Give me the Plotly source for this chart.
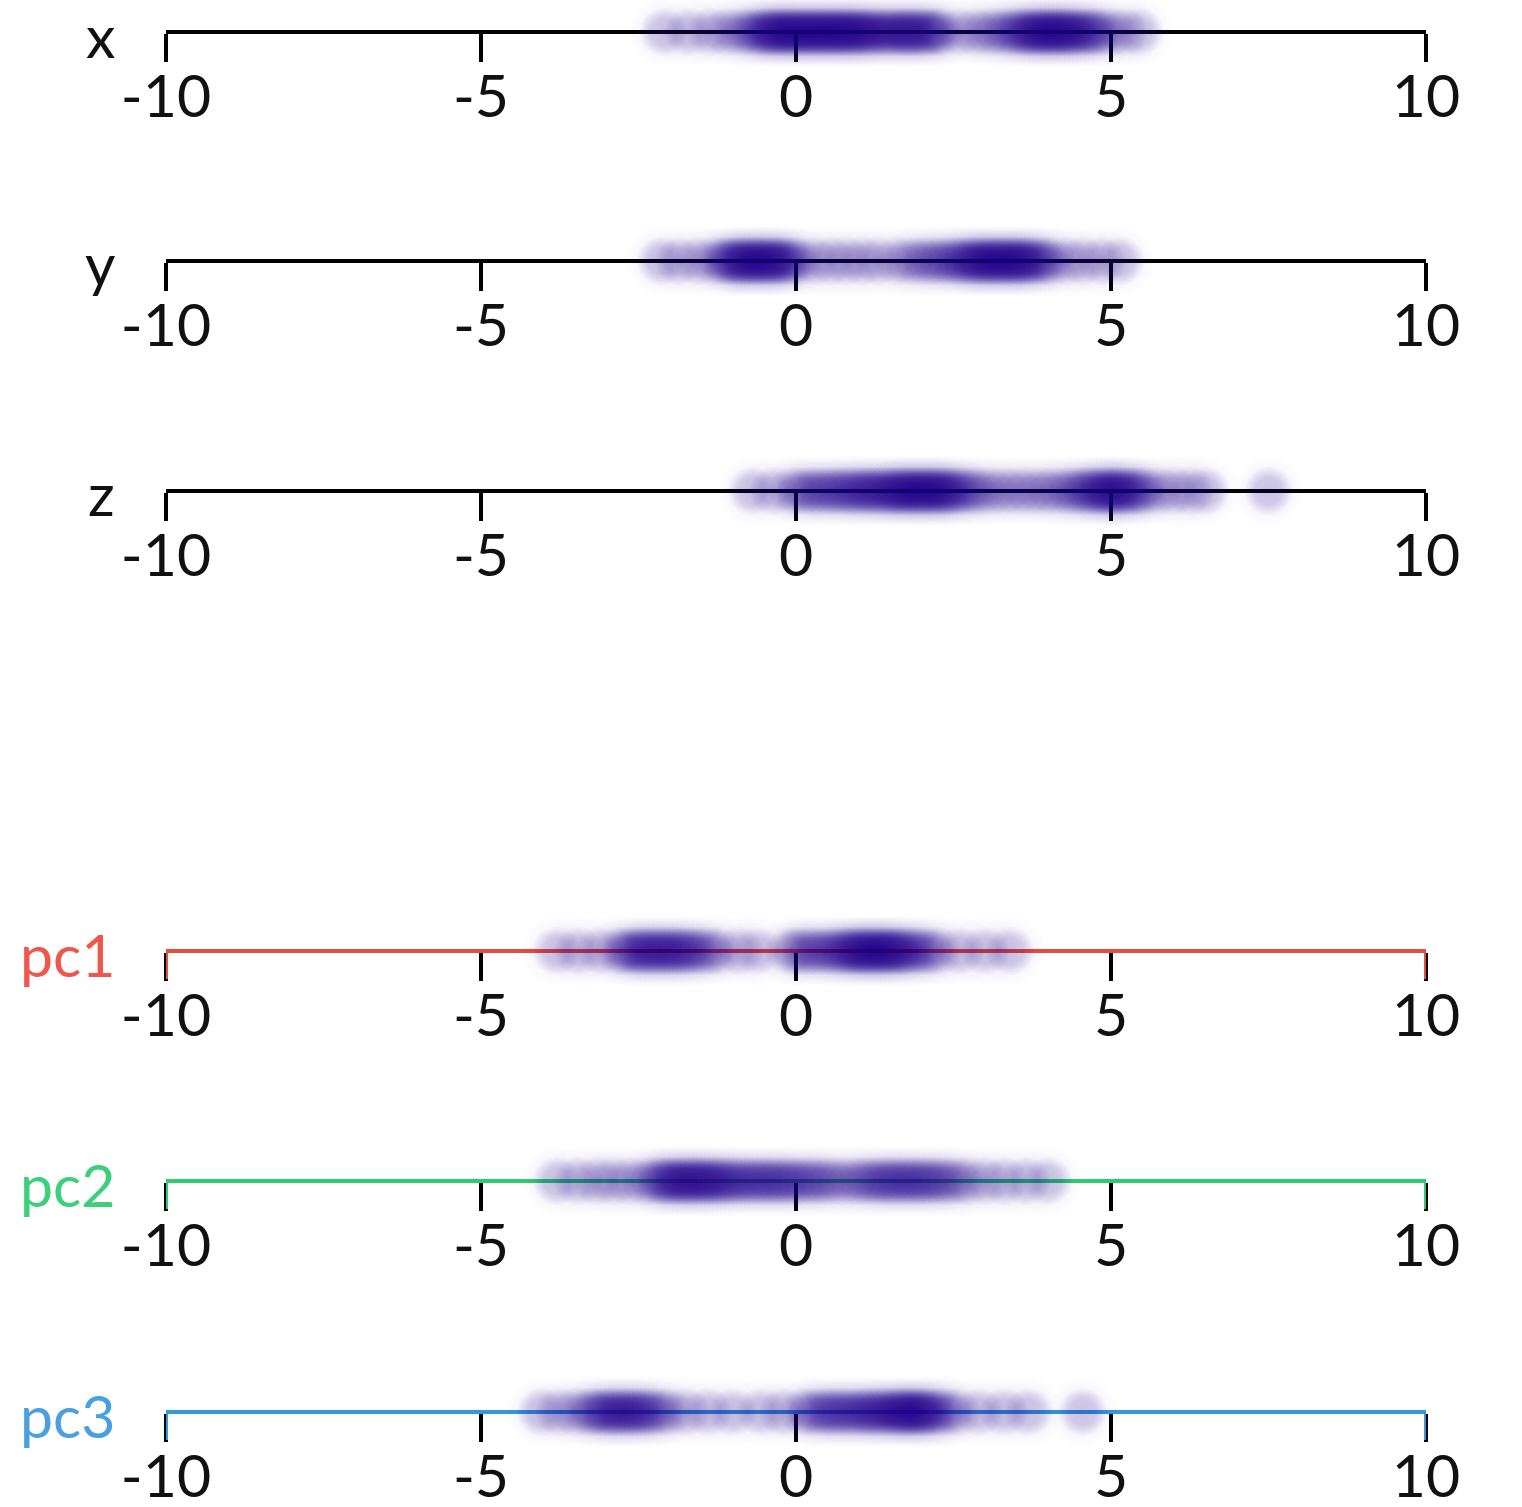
import plotly.graph_objects as go

# ---------------- data ----------------
row_names = ["x", "y", "z", "pc1", "pc2", "pc3"]

x_vals = [-2.1, -1.7, -1.35, -1.1, -0.9,
          -0.75, -0.65, -0.55, -0.48, -0.42, -0.36, -0.3, -0.24, -0.18, -0.12, -0.06, 0.0, 0.06,
          0.12, 0.18, 0.24, 0.3, 0.36, 0.42, 0.48, 0.54, 0.6, 0.66, 0.72, 0.78, 0.84, 0.9, 0.96,
          1.02, 1.08,
          1.15, 1.22, 1.3, 1.38, 1.46, 1.54, 1.62, 1.7, 1.76, 1.82, 1.9, 1.98, 2.06, 2.14, 2.22, 2.3,
          2.6, 2.85,
          3.05, 3.2, 3.35, 3.45, 3.55, 3.62, 3.7, 3.76, 3.82, 3.88, 3.94, 4.0, 4.06, 4.12, 4.18,
          4.24, 4.3, 4.36, 4.42, 4.5, 4.58, 4.66, 4.74, 4.82,
          5.0, 5.2, 5.45]

y_vals = [-2.15, -1.85, -1.55, -1.3,
          -1.15, -1.08, -1.0, -0.94, -0.88, -0.82, -0.76, -0.7, -0.64, -0.58, -0.52, -0.46, -0.4,
          -0.34, -0.28, -0.22, -0.15, -0.06, 0.05,
          0.3, 0.55, 0.8, 1.05, 1.3,
          1.6, 1.8, 1.95, 2.1, 2.22, 2.34, 2.46, 2.56, 2.64, 2.72, 2.8, 2.86, 2.92, 2.98, 3.04, 3.1,
          3.16, 3.22, 3.28, 3.34, 3.4, 3.46, 3.52, 3.58, 3.64, 3.7, 3.78, 3.86, 3.95, 4.05,
          4.3, 4.55, 4.85, 5.15]

z_vals = [-0.7, -0.35,
          -0.05, 0.08, 0.2, 0.32, 0.44, 0.55, 0.66, 0.76, 0.86, 0.95, 1.04, 1.12, 1.2, 1.28, 1.36,
          1.44, 1.52, 1.58, 1.64, 1.7, 1.76, 1.82, 1.88, 1.94, 2.0, 2.06, 2.12, 2.18, 2.24, 2.3,
          2.36, 2.42, 2.5, 2.58, 2.68, 2.8, 2.92,
          3.1, 3.3, 3.5, 3.7, 3.9, 4.08,
          4.25, 4.38, 4.5, 4.6, 4.68, 4.76, 4.84, 4.9, 4.96, 5.02, 5.08, 5.14, 5.2, 5.28, 5.36,
          5.45, 5.55,
          5.75, 6.0, 6.25, 6.5,
          7.5]

pc1_vals = [-3.8, -3.45, -3.1,
            -2.8, -2.7, -2.6, -2.52, -2.44, -2.36, -2.28, -2.2, -2.12, -2.04, -1.96, -1.88, -1.8,
            -1.72, -1.62, -1.5, -1.38, -1.24,
            -0.9, -0.6,
            -0.1, 0.02, 0.14, 0.26, 0.38, 0.5, 0.6, 0.7, 0.78, 0.86, 0.92, 0.98, 1.04, 1.1, 1.16,
            1.22, 1.28, 1.34, 1.4, 1.46, 1.52, 1.58, 1.64, 1.72, 1.8, 1.9, 2.0, 2.12, 2.25,
            2.6, 3.0, 3.4]

pc2_vals = [-3.8, -3.45, -3.15, -2.9, -2.65,
            -2.4, -2.25, -2.15, -2.07, -2.0, -1.93, -1.86, -1.79, -1.72, -1.65, -1.58, -1.51,
            -1.44, -1.37, -1.3, -1.22, -1.14, -1.05, -0.96, -0.86, -0.76, -0.66, -0.56, -0.46,
            -0.36, -0.26, -0.16, -0.06, 0.06, 0.18, 0.3, 0.42, 0.56, 0.72,
            0.9, 1.04, 1.16, 1.28, 1.38, 1.48, 1.58, 1.68, 1.78, 1.88, 1.98, 2.08, 2.18, 2.3,
            2.42, 2.56, 2.72,
            3.0, 3.3, 3.65, 4.0]

pc3_vals = [-4.05, -3.75, -3.5,
            -3.3, -3.2, -3.1, -3.02, -2.94, -2.86, -2.78, -2.7, -2.62, -2.54, -2.46, -2.38, -2.28,
            -2.16, -2.02,
            -1.75, -1.4, -1.0,
            -0.55, -0.2,
            0.12, 0.25, 0.37, 0.48, 0.58, 0.68, 0.78, 0.88, 0.98, 1.08, 1.16, 1.24, 1.32, 1.4, 1.48,
            1.56, 1.62, 1.68, 1.74, 1.8, 1.86, 1.92, 1.98, 2.04, 2.1, 2.18, 2.28, 2.4, 2.55,
            2.9, 3.3, 3.7,
            4.55]

rows_data = [x_vals, y_vals, z_vals, pc1_vals, pc2_vals, pc3_vals]

tick_vals = [-10, -5, 0, 5, 10]
tick_text = ["-10", "-5", "0", "5", "10"]
axis_range = [-10, 10]

axis_colors = ["#000000", "#000000", "#000000", "#e74c3c", "#2ecc71", "#3498db"]
label_colors = ["#111111", "#111111", "#111111", "#f0574c", "#3dd07a", "#4a9fe0"]

# ---------------- layout geometry ----------------
W, H = 1522, 1507
line_px = [32, 261, 491, 951, 1181, 1412]
dom = [166 / W, 1426 / W]
tick_len = 28
dot_rgb = "42,18,155"
# soft halo (radial gradient) + stacked translucent disks -> blurred dot look
halo = (72, 0.09)
disks = [(48, 0.028), (44, 0.028), (40, 0.028), (36, 0.028), (32, 0.028), (28, 0.028)]

fig = go.Figure()
layout = dict(
    width=W, height=H, margin=dict(l=0, r=0, t=0, b=0, autoexpand=False),
    paper_bgcolor="white", plot_bgcolor="rgba(0,0,0,0)",
    showlegend=False, font=dict(family="Lato", color="#111111"),
)
shapes = []
annotations = []

for i, (name, vals) in enumerate(zip(row_names, rows_data)):
    k = "" if i == 0 else str(i + 1)
    frac = 1 - line_px[i] / H
    band = 20 / H
    xa, ya = "x" + k, "y" + k

    fig.add_trace(go.Scatter(
        x=vals, y=[0] * len(vals), xaxis=xa, yaxis=ya, mode="markers",
        cliponaxis=False, hoverinfo="skip",
        marker=dict(size=halo[0], color="rgba(%s,0)" % dot_rgb,
                    gradient=dict(type="radial", color="rgba(%s,%s)" % (dot_rgb, halo[1])),
                    line=dict(width=0)),
    ))
    for size, alpha in disks:
        fig.add_trace(go.Scatter(
            x=vals, y=[0] * len(vals), xaxis=xa, yaxis=ya, mode="markers",
            cliponaxis=False, hoverinfo="skip",
            marker=dict(size=size, color="rgba(%s,%s)" % (dot_rgb, alpha), line=dict(width=0)),
        ))

    layout["xaxis" + k] = dict(
        domain=dom, anchor="free", position=frac, range=axis_range, automargin=False,
        showgrid=False, zeroline=False, showline=True, linewidth=4,
        linecolor=axis_colors[i], ticks="outside", ticklen=tick_len, tickwidth=4,
        tickcolor="#000000", tickvals=tick_vals, ticktext=tick_text,
        tickfont=dict(family="Lato", size=59, color="#111111"),
        ticklabelstandoff=-16,
        layer="below traces", fixedrange=True,
    )
    layout["yaxis" + k] = dict(
        domain=[frac - band, frac + band], range=[-1, 1], visible=False,
        anchor=xa, fixedrange=True, automargin=False,
    )
    if i >= 3:
        for xv in (axis_range[0], axis_range[1]):
            shapes.append(dict(
                type="line", xref=xa, yref="paper", x0=xv, x1=xv,
                y0=frac, y1=frac - tick_len / H,
                line=dict(color=axis_colors[i], width=4), layer="above",
            ))
    annotations.append(dict(
        text=name, xref="paper", yref="paper", x=117 / W, y=frac,
        xanchor="right", yanchor="middle", showarrow=False, yshift=-3,
        font=dict(family="Lato", size=59, color=label_colors[i]),
    ))

layout["shapes"] = shapes
layout["annotations"] = annotations
fig.update_layout(**layout)
fig.write_html("out.html")
